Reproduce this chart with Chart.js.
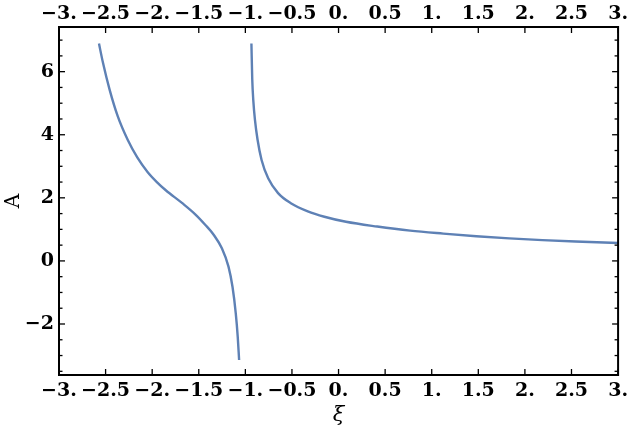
<!DOCTYPE html>
<html>
<head>
<meta charset="utf-8">
<script src="https://cdn.jsdelivr.net/npm/chart.js@4.4.1/dist/chart.umd.min.js"></script>
<style>
  html, body { margin: 0; padding: 0; background: #fff; }
  #wrap { width: 633px; height: 434px; }
</style>
</head>
<body>
<div id="wrap"><canvas id="chart"></canvas></div>
<script>
// left branch (xi < -1)
var xiLeft = [-2.571, -2.528, -2.457, -2.369, -2.263, -2.16, -2.05, -1.95, -1.854, -1.677,
              -1.535, -1.429, -1.34, -1.252, -1.181, -1.138, -1.103, -1.082, -1.067];
var aLeft = [6.89, 6.28, 5.43, 4.58, 3.84, 3.28, 2.82, 2.50, 2.24, 1.83,
             1.47, 1.14, 0.83, 0.40, -0.18, -0.82, -1.66, -2.40, -3.14];

// right branch (xi > -1)
var xiRight = [-0.935, -0.926, -0.915, -0.897, -0.869, -0.826, -0.755, -0.649, -0.507, -0.33,
               -0.152, 0.08, 0.415, 0.769, 1.124, 1.479, 1.833, 2.188, 2.543, 3.0];
var aRight = [6.89, 5.75, 5.1, 4.47, 3.84, 3.20, 2.62, 2.15, 1.82, 1.57,
              1.40, 1.24, 1.09, 0.96, 0.865, 0.78, 0.715, 0.66, 0.615, 0.57];

// ticks
var xTicks = [-3, -2.5, -2, -1.5, -1, -0.5, 0, 0.5, 1, 1.5, 2, 2.5, 3];
var yTicks = [-2, 0, 2, 4, 6];
var yMinor = [-3.5, -3, -2.5, -1.5, -1, -0.5, 0.5, 1, 1.5, 2.5, 3, 3.5, 4.5, 5, 5.5, 6.5, 7];

var xMin = -3, xMax = 3, yMin = -3.617, yMax = 7.416;

var lineColor = '#5E81B5';
var tickFont = { family: 'DejaVu Serif', size: 19, weight: 'bold' };

function pts(xs, ys) {
  return xs.map(function (x, i) { return { x: x, y: ys[i] }; });
}

function xLabel(v) {
  var s = Math.abs(v) + (Number.isInteger(v) ? '.' : '');
  return (v < 0 ? '\u2212' : '') + s;
}

function yLabel(v) {
  return (v < 0 ? '\u2212' : '') + Math.abs(v);
}

function setTicks(list) {
  return function (scale) {
    scale.ticks = list.map(function (v) { return { value: v }; });
  };
}

// frame + inward ticks like Mathematica
var framePlugin = {
  id: 'frame',
  afterDraw: function (chart) {
    var ctx = chart.ctx, a = chart.chartArea;
    var x = chart.scales.x, y = chart.scales.y;
    function seg(x1, y1, x2, y2) {
      ctx.beginPath(); ctx.moveTo(x1, y1); ctx.lineTo(x2, y2); ctx.stroke();
    }
    ctx.save();
    ctx.strokeStyle = '#000';
    ctx.lineWidth = 1.3;
    xTicks.forEach(function (v) {
      var px = x.getPixelForValue(v);
      seg(px, a.bottom, px, a.bottom - 6);
      seg(px, a.top, px, a.top + 6);
    });
    yTicks.forEach(function (v) {
      var py = y.getPixelForValue(v);
      seg(a.left, py, a.left + 6, py);
      seg(a.right, py, a.right - 6, py);
    });
    yMinor.forEach(function (v) {
      var py = y.getPixelForValue(v);
      seg(a.left, py, a.left + 3.5, py);
      seg(a.right, py, a.right - 3.5, py);
    });
    ctx.lineWidth = 2;
    ctx.strokeRect(a.left, a.top, a.right - a.left, a.bottom - a.top);
    ctx.restore();
  }
};

var lineStyle = {
  showLine: true,
  pointRadius: 0,
  borderColor: lineColor,
  backgroundColor: lineColor,
  borderWidth: 2.4,
  cubicInterpolationMode: 'monotone'
};

var chart = new Chart(document.getElementById('chart'), {
  type: 'scatter',
  data: {
    datasets: [
      Object.assign({ data: pts(xiLeft, aLeft) }, lineStyle),
      Object.assign({ data: pts(xiRight, aRight) }, lineStyle)
    ]
  },
  options: {
    responsive: true,
    maintainAspectRatio: false,
    animation: false,
    layout: { padding: { right: 10 } },
    plugins: { legend: { display: false }, tooltip: { enabled: false } },
    scales: {
      x: {
        type: 'linear', position: 'bottom', min: xMin, max: xMax,
        afterBuildTicks: setTicks(xTicks),
        afterFit: function (s) { s.height = 59; },
        grid: { display: false, drawTicks: false },
        border: { display: false },
        ticks: { font: tickFont, color: '#000', padding: 5, maxRotation: 0, autoSkip: false, callback: xLabel },
        title: { display: true, text: '\u03be', color: '#000', padding: { top: 0, bottom: 6 },
                 font: { family: 'DejaVu Serif', size: 21, style: 'italic' } }
      },
      x2: {
        type: 'linear', position: 'top', min: xMin, max: xMax,
        afterBuildTicks: setTicks(xTicks),
        afterFit: function (s) { s.height = 27; },
        grid: { display: false, drawTicks: false },
        border: { display: false },
        ticks: { font: tickFont, color: '#000', padding: 2, maxRotation: 0, autoSkip: false, callback: xLabel }
      },
      y: {
        type: 'linear', position: 'left', min: yMin, max: yMax,
        afterBuildTicks: setTicks(yTicks),
        afterFit: function (s) { s.width = 59; },
        grid: { display: false, drawTicks: false },
        border: { display: false },
        ticks: { font: tickFont, color: '#000', padding: 5, callback: yLabel },
        title: { display: true, text: 'A', color: '#000', padding: { top: 2, bottom: 0 },
                 font: { family: 'DejaVu Serif', size: 20 } }
      }
    }
  },
  plugins: [framePlugin]
});
</script>
</body>
</html>
